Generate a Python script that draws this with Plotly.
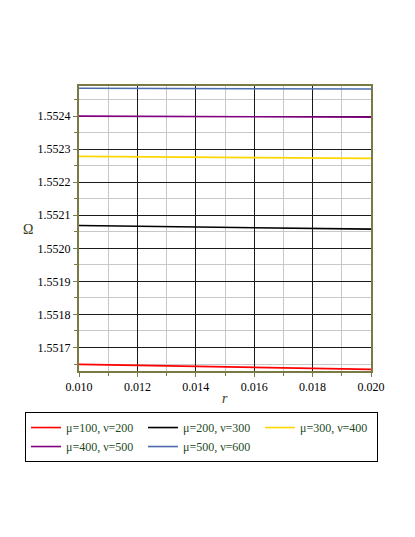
import plotly.graph_objects as go

# r values and Omega curves
r_vals = [0.010, 0.012, 0.014, 0.016, 0.018, 0.020]

omega_100_200 = [1.551649, 1.551646, 1.551643, 1.551640, 1.551637, 1.551634]
omega_200_300 = [1.552069, 1.552067, 1.552065, 1.552062, 1.552060, 1.552058]
omega_300_400 = [1.552278, 1.552277, 1.552276, 1.552275, 1.552273, 1.552272]
omega_400_500 = [1.552400, 1.552399, 1.552399, 1.552398, 1.552398, 1.552397]
omega_500_600 = [1.552484, 1.552484, 1.552483, 1.552483, 1.552482, 1.552482]

series_names = ["μ=100, ν=200", "μ=200, ν=300", "μ=300, ν=400",
                "μ=400, ν=500", "μ=500, ν=600"]
series_vals = [omega_100_200, omega_200_300, omega_300_400,
               omega_400_500, omega_500_600]
series_colors = ["#ff0000", "#000000", "#ffd700", "#800080", "#4b6cae"]

FONT = "Liberation Serif"
FRAME = "#7a7a45"
TITLE_INK = "#3a3a1a"
LEGEND_INK = "#1e4a1e"
OFF = 8  # page body margin shifts the figure by this much

fig = go.Figure()
for name, vals, col in zip(series_names, series_vals, series_colors):
    fig.add_trace(go.Scatter(
        x=r_vals, y=vals, name=name, mode="lines",
        line=dict(color=col, width=1.6),
    ))

axis_common = dict(
    showline=True, mirror=True, linecolor=FRAME, linewidth=2,
    showgrid=True, gridcolor="#1a1a1a", gridwidth=1,
    ticks="outside", ticklen=4, tickcolor=FRAME,
    zeroline=False,
    tickfont=dict(family=FONT, size=12, color="black"),
)

fig.update_layout(
    width=415, height=537,
    margin=dict(l=79 - OFF, r=44 + OFF, t=86 - OFF, b=166 + OFF),
    plot_bgcolor="white", paper_bgcolor="white",
    font=dict(family=FONT, color="black"),
    xaxis=dict(
        range=[0.010, 0.020], dtick=0.002, tick0=0.010, tickformat=".3f",
        minor=dict(dtick=0.001, showgrid=True, gridcolor="#c8c8c8",
                   ticks="outside", ticklen=3, tickcolor=FRAME),
        **axis_common,
    ),
    yaxis=dict(
        range=[1.551629, 1.552491], dtick=0.0001, tick0=1.5517, tickformat=".4f",
        minor=dict(dtick=0.00005, showgrid=True, gridcolor="#c8c8c8",
                   ticks="outside", ticklen=3, tickcolor=FRAME),
        **axis_common,
    ),
    legend=dict(
        orientation="h",
        x=-0.185, y=-0.144, xanchor="left", yanchor="top",
        bgcolor="white", bordercolor="black", borderwidth=1,
        font=dict(family=FONT, size=12, color=LEGEND_INK),
        entrywidth=72, entrywidthmode="pixels",
        tracegroupgap=0,
    ),
    showlegend=True,
)

# axis titles placed as in the reference
fig.add_annotation(
    text="Ω", xref="paper", yref="paper", x=-0.176, y=0.495,
    xanchor="center", yanchor="middle",
    showarrow=False, font=dict(family=FONT, size=14, color=TITLE_INK),
)
fig.add_annotation(
    text="<i>r</i>", xref="paper", yref="paper", x=0.5, y=-0.095,
    xanchor="center", yanchor="middle",
    showarrow=False, font=dict(family=FONT, size=14, color=TITLE_INK),
)

fig.write_html("out.html")
